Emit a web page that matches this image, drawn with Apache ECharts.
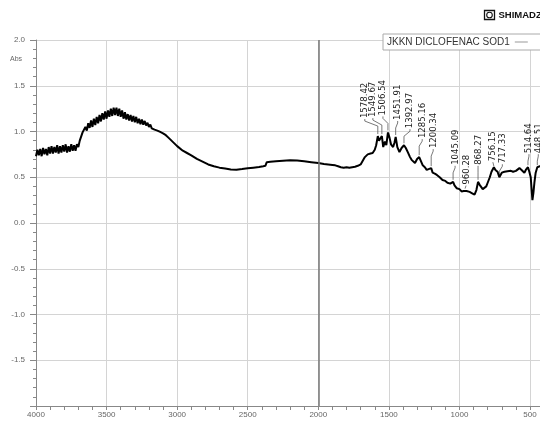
<!DOCTYPE html>
<html>
<head>
<meta charset="utf-8">
<script src="https://cdn.jsdelivr.net/npm/echarts@6/dist/echarts.min.js"></script>
<style>html,body{margin:0;padding:0;background:#fff}#c{width:540px;height:425px}</style>
</head>
<body>
<div id="c"></div>
<script>
// ---- data ----
var seriesName = 'JKKN DICLOFENAC SOD1';
// [wavenumber (cm-1), absorbance]
var spectrumHigh = [[4000,0.73],[3990,0.80],[3980,0.74],[3970,0.81],[3960,0.73],[3950,0.82],[3940,0.75],[3930,0.81],[3920,0.74],[3910,0.83],
[3900,0.76],[3890,0.84],[3880,0.76],[3870,0.83],[3860,0.77],[3850,0.85],[3840,0.76],[3830,0.84],[3820,0.77],[3810,0.85],
[3800,0.78],[3790,0.86],[3780,0.77],[3770,0.84],[3760,0.78],[3750,0.86],[3740,0.79],[3730,0.85],[3720,0.79],[3710,0.86],
[3700,0.83],[3690,0.90],[3680,0.90],[3670,0.99],[3660,0.98],[3650,1.05],[3640,1.01],[3630,1.09],[3620,1.04],[3610,1.12],
[3600,1.05],[3590,1.14],[3580,1.07],[3570,1.16],[3560,1.09],[3550,1.18],[3540,1.11],[3530,1.20],[3520,1.13],[3510,1.22],
[3500,1.14],[3490,1.23],[3480,1.16],[3470,1.25],[3460,1.17],[3450,1.26],[3440,1.18],[3430,1.26],[3420,1.17],[3410,1.25],
[3400,1.16],[3390,1.23],[3380,1.14],[3370,1.21],[3360,1.13],[3350,1.19],[3340,1.12],[3330,1.18],[3320,1.11],[3310,1.17],
[3300,1.10],[3290,1.16],[3280,1.09],[3270,1.14],[3260,1.08],[3250,1.13],[3240,1.075],[3230,1.115],[3220,1.065],[3210,1.095],
[3200,1.05],[3190,1.075],[3180,1.035],[3170,1.055],[3160,1.02],[3150,1.035],[3140,1.01],[3130,1.015],[3120,0.995],[3110,0.99],[3100,0.98]];
var spectrumMid = [[3080,0.96],[3060,0.93],[3040,0.90],[3020,0.87],[3000,0.84],[2960,0.79],[2930,0.765],[2900,0.74],[2860,0.70],[2820,0.67],
[2780,0.64],[2740,0.62],[2700,0.605],[2660,0.595],[2620,0.585],[2580,0.583],[2540,0.59],[2500,0.598],[2460,0.605],[2420,0.612],
[2390,0.62],[2375,0.625],[2365,0.665],[2340,0.67],[2300,0.675],[2250,0.68],[2200,0.685],[2150,0.683],[2100,0.675],[2050,0.665],
[2000,0.655],[1960,0.645],[1930,0.64],[1900,0.635],[1880,0.63],[1860,0.62],[1840,0.61],[1820,0.605],[1800,0.61],[1780,0.605],
[1760,0.61],[1740,0.615],[1720,0.625],[1700,0.64],[1685,0.68],[1670,0.72],[1650,0.75],[1630,0.76],[1615,0.765],[1600,0.80],[1590,0.85]];
var spectrumFingerprint = [[1578.42,0.95],[1570,0.90],[1560,0.92],[1549.67,0.95],[1540,0.83],[1528,0.89],[1518,0.85],[1506.54,0.99],[1495,0.93],[1485,0.86],
[1470,0.83],[1460,0.88],[1451.91,0.94],[1440,0.83],[1425,0.775],[1410,0.82],[1400,0.80],[1392.97,0.85],[1380,0.82],[1366,0.775],
[1350,0.72],[1339,0.69],[1325,0.67],[1315,0.655],[1300,0.70],[1285.16,0.72],[1275,0.70],[1260,0.63],[1245,0.61],[1232,0.58],
[1220,0.585],[1200.34,0.60],[1190,0.55],[1175,0.54],[1160,0.525],[1150,0.515],[1140,0.50],[1130,0.49],[1120,0.47],[1110,0.475],[1100,0.46],
[1090,0.445],[1085,0.44],[1075,0.445],[1065,0.43],[1055,0.435],
[1045.09,0.45],[1035,0.41],[1020,0.38],[1010,0.385],[1000,0.37],[992,0.36],[985,0.345],[970,0.35],[960.28,0.365],[950,0.35],[940,0.345],[928,0.34],
[918,0.33],[910,0.325],[900,0.32],[893,0.31],[880,0.36],[868.27,0.45],[858,0.42],[850,0.40],[835,0.37],[822,0.36],[810,0.40],[800,0.44],
[785,0.50],[773,0.56],[765,0.58],[756.15,0.61],[745,0.58],[735,0.57],[730,0.56],[717.33,0.50],[709,0.52],[700,0.55],
[690,0.57],[681,0.56],[670,0.545],[660,0.565],[646,0.55],[635,0.57],[620,0.56],[610,0.58],[600,0.57],[590,0.59],
[575,0.60],[560,0.58],[550,0.56],[540,0.55],[530,0.58],[514.64,0.61],[505,0.56],[495,0.50],[488,0.35],[483,0.25],
[476,0.33],[469,0.44],[460,0.55],[448.51,0.61],[440,0.63],[430,0.62],[420,0.60],[410,0.62]];
var peakWavenumbers = [1578.42,1549.67,1506.54,1451.91,1392.97,1285.16,1200.34,1045.09,960.28,868.27,756.15,717.33,514.64,448.51];
var peakAbsorbance = [0.95,0.95,0.99,0.94,0.85,0.72,0.60,0.45,0.365,0.45,0.61,0.50,0.61,0.61];
var peakLabels = ['1578.42','1549.67','1506.54','1451.91','1392.97','1285.16','1200.34','1045.09','960.28','868.27','756.15','717.33','514.64','448.51'];
var yTickLabels = ['2.0','1.5','1.0','0.5','0.0','-0.5','-1.0','-1.5'];
var yAxisTitle = 'Abs';
var brandText = 'SHIMADZU';

// ---- layout of peak labels (pixel offsets: dx, rise above peak) ----
var labelLayout = [[-13,18],[-9,19],[-5,17],[2,17],[6,17],[3,19],[2,20],[2,17],[1,5],[0,17],[-1,6],[3,14],[1,14],[1,14]];

var lineData = spectrumHigh.concat(spectrumMid, spectrumFingerprint);
var peakData = peakWavenumbers.map(function(w,i){return [w, peakAbsorbance[i], i];});

var chart = echarts.init(document.getElementById('c'), null, {renderer:'canvas'});
var labelFont = "9.5px 'Liberation Sans Narrow','DejaVu Sans Condensed',sans-serif";
var axisFont = 'Liberation Sans';

chart.setOption({
  animation:false,
  backgroundColor:'#fff',
  grid:{left:36, top:40, width:564.6, height:366, outerBoundsMode:'none', containLabel:false},
  legend:{
    data:[seriesName], left:383, top:34, align:'right', icon:'rect',
    itemWidth:13, itemHeight:1, itemGap:4,
    backgroundColor:'#fff', borderColor:'#aaa', borderWidth:1, padding:[3,40,3,4],
    textStyle:{fontFamily:axisFont, fontSize:10, color:'#333'},
    itemStyle:{color:'#999'}
  },
  xAxis:{
    type:'value', inverse:true, min:0, max:4000, interval:500,
    axisLine:{show:true, onZero:false, lineStyle:{color:'#888', width:1}},
    axisTick:{show:true, length:4, lineStyle:{color:'#888'}},
    minorTick:{show:true, splitNumber:5, length:4, lineStyle:{color:'#888'}},
    axisLabel:{fontFamily:axisFont, fontSize:8, color:'#666', margin:5, showMinLabel:true, showMaxLabel:true,
      formatter:function(v){return String(v);}},
    splitLine:{show:true, lineStyle:{color:'#d4d4d4', width:1}}
  },
  yAxis:{
    type:'value', min:-2, max:2, interval:0.5,
    axisLine:{show:true, onZero:false, lineStyle:{color:'#888', width:1}},
    axisTick:{show:true, length:6, lineStyle:{color:'#888'}},
    minorTick:{show:true, splitNumber:5, length:3, lineStyle:{color:'#888'}},
    axisLabel:{fontFamily:axisFont, fontSize:8, color:'#666', margin:11,
      formatter:function(v){var s=v.toFixed(1); return yTickLabels.indexOf(s)>=0?s:'';}},
    splitLine:{show:true, lineStyle:{color:'#d4d4d4', width:1}}
  },
  graphic:[
    {type:'text', left:10, top:56, style:{text:yAxisTitle, font:'7px Liberation Sans', fill:'#666'}},
    {type:'group', left:482, top:8, children:[
      {type:'rect', shape:{x:0,y:0,width:10,height:9}, style:{fill:'none', stroke:'#111', lineWidth:1.3}},
      {type:'circle', shape:{cx:5,cy:4.5,r:2.8}, style:{fill:'none', stroke:'#111', lineWidth:1.1}},
      {type:'text', x:14, y:0, style:{text:brandText, font:'bold 9.5px Liberation Sans', fill:'#111'}}
    ]}
  ],
  series:[
    {
      name:seriesName, type:'line', data:lineData, showSymbol:false, symbol:'none',
      lineStyle:{color:'#000', width:2}, itemStyle:{color:'#000'}, silent:true,
      markLine:{silent:true, symbol:'none', label:{show:false},
        lineStyle:{color:'#777', width:1.5, type:'solid'}, data:[{xAxis:2000}]}
    },
    {
      type:'custom', coordinateSystem:'cartesian2d', data:peakData, silent:true,
      encode:{x:0, y:1}, clip:false,
      renderItem:function(params, api){
        var idx = api.value(2);
        var p = api.coord([api.value(0), api.value(1)]);
        var lay = labelLayout[idx];
        var lx = p[0] + lay[0];
        var bottom = p[1] - lay[1];
        var pts;
        if (lay[1] > 10) {
          pts = [[lx, bottom+1],[lx, bottom+3],[p[0], bottom+8],[p[0], p[1]-2]];
        } else {
          pts = [[lx, bottom+1],[p[0], p[1]-1]];
        }
        return {type:'group', children:[
          {type:'polyline', shape:{points:pts}, style:{stroke:'#555', lineWidth:0.8, fill:null}},
          {type:'text', x:lx, y:bottom, rotation:Math.PI/2,
            style:{text:peakLabels[idx], font:labelFont, fill:'#222', align:'left', verticalAlign:'middle'}}
        ]};
      }
    }
  ]
});
</script>
</body>
</html>
